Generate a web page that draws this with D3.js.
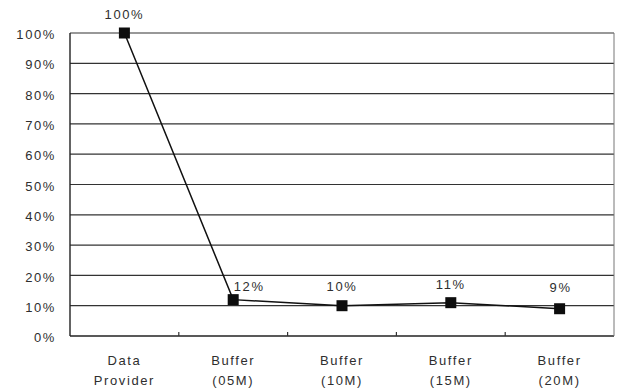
<!DOCTYPE html>
<html>
<head>
<meta charset="utf-8">
<script src="https://cdn.jsdelivr.net/npm/d3@7"></script>
<style>
  html, body { margin: 0; padding: 0; background: #fff; }
  svg text { font-family: "Liberation Sans", Arial, sans-serif; fill: #2e2e2e; }
</style>
</head>
<body>
<svg id="chart" width="617" height="389"></svg>
<script>
// Share of requests served at each stage
const categories = ["Data Provider", "Buffer (05M)", "Buffer (10M)", "Buffer (15M)", "Buffer (20M)"];
const categoryLines = [["Data", "Provider"], ["Buffer", "(05M)"], ["Buffer", "(10M)"], ["Buffer", "(15M)"], ["Buffer", "(20M)"]];
const values = [100, 12, 10, 11, 9];
const valueLabels = ["100%", "12%", "10%", "11%", "9%"];
const yTicks = [0, 10, 20, 30, 40, 50, 60, 70, 80, 90, 100];

const svg = d3.select("#chart");
const margin = { left: 70, right: 3, top: 33, bottom: 53 };
const W = 617, H = 389;
const fontSize = 13, spacing = 1.6;

const x = d3.scaleBand().domain(categories).range([margin.left, W - margin.right]);
const y = d3.scaleLinear().domain([0, 100]).range([H - margin.bottom, margin.top]);

// horizontal gridlines
svg.append("g")
  .selectAll("line")
  .data(yTicks.filter(d => d > 0))
  .join("line")
  .attr("x1", margin.left).attr("x2", W - margin.right)
  .attr("y1", d => y(d)).attr("y2", d => y(d))
  .attr("stroke", "#333").attr("stroke-width", 1.2);

// y axis labels
const yAxis = d3.axisLeft(y).tickValues(yTicks).tickFormat(d => d + "%").tickSize(0).tickPadding(14);
const gy = svg.append("g").attr("transform", `translate(${margin.left},1.5)`).call(yAxis);
gy.select(".domain").remove();
gy.selectAll("text").attr("font-size", fontSize).attr("letter-spacing", spacing)
  .attr("font-family", null).attr("fill", null);

// frame: left axis, bottom axis, right edge
svg.append("line").attr("x1", margin.left).attr("x2", margin.left)
  .attr("y1", y(100)).attr("y2", y(0)).attr("stroke", "#222").attr("stroke-width", 1.4);
svg.append("line").attr("x1", margin.left).attr("x2", W - margin.right)
  .attr("y1", y(0)).attr("y2", y(0)).attr("stroke", "#222").attr("stroke-width", 1.4);
svg.append("line").attr("x1", W - margin.right).attr("x2", W - margin.right)
  .attr("y1", y(100)).attr("y2", y(0)).attr("stroke", "#777").attr("stroke-width", 1);

// inward ticks at category boundaries
svg.append("g").selectAll("line")
  .data(categories.slice(1))
  .join("line")
  .attr("x1", d => x(d)).attr("x2", d => x(d))
  .attr("y1", y(0)).attr("y2", y(0) - 4)
  .attr("stroke", "#333").attr("stroke-width", 1.2);

// category labels (two lines)
const cx = d => x(d) + x.bandwidth() / 2;
svg.append("g").selectAll("text")
  .data(categories)
  .join("text")
  .attr("x", cx)
  .attr("y", 365)
  .attr("text-anchor", "middle")
  .attr("font-size", fontSize)
  .attr("letter-spacing", spacing)
  .each(function(d, i) {
    const t = d3.select(this);
    categoryLines[i].forEach((s, j) => {
      t.append("tspan").attr("x", cx(d)).attr("dy", j === 0 ? 0 : 20).text(s);
    });
  });

// series line
const line = d3.line().x((d, i) => cx(categories[i])).y(d => y(d));
svg.append("path").datum(values)
  .attr("d", line)
  .attr("fill", "none").attr("stroke", "#111").attr("stroke-width", 1.5);

// square markers
const ms = 11;
svg.append("g").selectAll("rect")
  .data(values)
  .join("rect")
  .attr("x", (d, i) => cx(categories[i]) - ms / 2)
  .attr("y", d => y(d) - ms / 2)
  .attr("width", ms).attr("height", ms)
  .attr("fill", "#0d0d0d");

// value labels above markers (nudged where the line passes through)
const labelNudge = [[0, 0], [16, 6], [0, 0], [0, 1], [1, -2]];
svg.append("g").selectAll("text")
  .data(values)
  .join("text")
  .attr("x", (d, i) => cx(categories[i]) + labelNudge[i][0])
  .attr("y", (d, i) => y(d) - 14.5 + labelNudge[i][1])
  .attr("text-anchor", "middle")
  .attr("font-size", fontSize)
  .attr("letter-spacing", spacing)
  .text((d, i) => valueLabels[i]);
</script>
</body>
</html>
